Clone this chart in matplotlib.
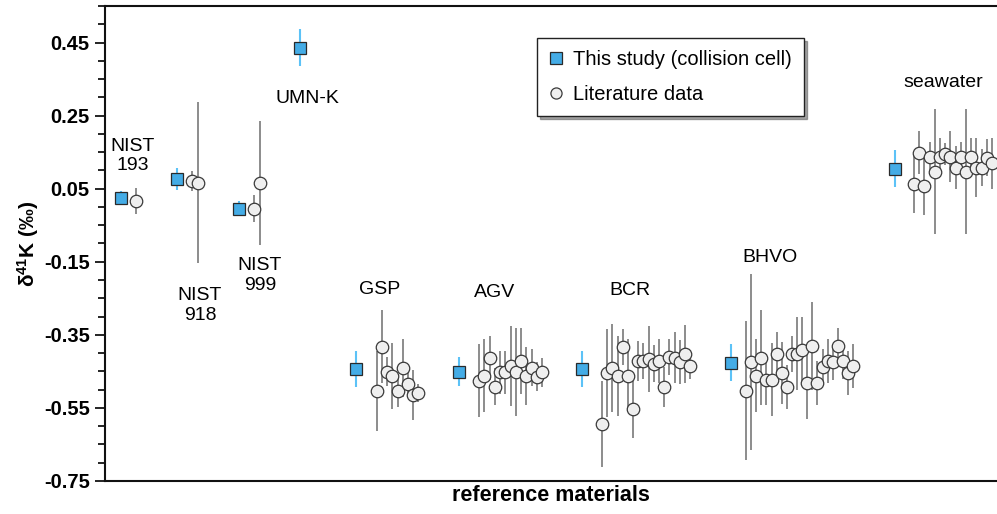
import numpy as np
import matplotlib
matplotlib.use('Agg')
import matplotlib.pyplot as plt
from matplotlib.lines import Line2D

plt.rcParams['font.family'] = ['Liberation Sans', 'DejaVu Sans']
plt.rcParams['mathtext.fontset'] = 'custom'
plt.rcParams['mathtext.rm'] = 'Liberation Sans:bold'
plt.rcParams['mathtext.default'] = 'rm'

# reference materials, in plotting order
materials = ['NIST\n193', 'NIST\n918', 'NIST\n999', 'UMN-K', 'GSP', 'AGV', 'BCR', 'BHVO', 'seawater']

# this study, collision cell (delta41K, 2SD)
this_val = [0.025, 0.077, -0.005, 0.436, -0.443, -0.451, -0.443, -0.426, 0.105]
this_err = [0.018, 0.030, 0.020, 0.050, 0.050, 0.040, 0.050, 0.050, 0.050]

# literature data per material
nist193_lit = [0.017]
nist193_err = [0.036]
nist918_lit = [0.072, 0.066]
nist918_err = [0.027, 0.22]
nist999_lit = [-0.005, 0.066]
nist999_err = [0.037, 0.17]
umnk_lit = []
umnk_err = []
gsp_lit = [-0.503, -0.383, -0.451, -0.462, -0.503, -0.440, -0.484, -0.514, -0.509]
gsp_err = [0.11, 0.10, 0.04, 0.09, 0.045, 0.08, 0.04, 0.068, 0.025]
agv_lit = [-0.476, -0.462, -0.413, -0.492, -0.453, -0.453, -0.435, -0.451, -0.421,
           -0.462, -0.440, -0.465, -0.453]
agv_err = [0.10, 0.10, 0.06, 0.05, 0.06, 0.06, 0.11, 0.12, 0.09, 0.08, 0.05, 0.04, 0.04]
bcr_lit = [-0.594, -0.454, -0.440, -0.462, -0.383, -0.462, -0.553, -0.421, -0.421,
           -0.416, -0.429, -0.421, -0.492, -0.410, -0.412, -0.424, -0.402, -0.435]
bcr_err = [0.118, 0.12, 0.12, 0.11, 0.05, 0.10, 0.078, 0.055, 0.05, 0.09, 0.05, 0.06,
           0.055, 0.05, 0.07, 0.06, 0.08, 0.035]
bhvo_lit = [-0.503, -0.424, -0.462, -0.413, -0.473, -0.473, -0.402, -0.454, -0.492,
            -0.402, -0.402, -0.391, -0.481, -0.380, -0.481, -0.438, -0.421, -0.424,
            -0.380, -0.421, -0.454, -0.435]
bhvo_err = [0.19, 0.24, 0.10, 0.13, 0.07, 0.10, 0.06, 0.085, 0.06, 0.05, 0.10, 0.09,
            0.10, 0.12, 0.06, 0.05, 0.06, 0.05, 0.05, 0.05, 0.06, 0.06]
sw_lit = [0.064, 0.149, 0.058, 0.138, 0.097, 0.138, 0.146, 0.138, 0.108, 0.138,
          0.097, 0.138, 0.108, 0.108, 0.135, 0.120]
sw_err = [0.08, 0.06, 0.08, 0.04, 0.17, 0.05, 0.03, 0.07, 0.06, 0.04, 0.17, 0.05,
          0.08, 0.05, 0.05, 0.07]

lit_vals = [nist193_lit, nist918_lit, nist999_lit, umnk_lit, gsp_lit, agv_lit, bcr_lit, bhvo_lit, sw_lit]
lit_errs = [nist193_err, nist918_err, nist999_err, umnk_err, gsp_err, agv_err, bcr_err, bhvo_err, sw_err]

# layout along the x axis
sq_x = [16, 72, 134, 195, 251, 354, 477, 626, 790]
lit_x0 = [31, 87, 149, 210, 272, 374, 497, 641, 809]
lit_step = [5.2, 6.0, 6.0, 5.2, 5.15, 5.25, 5.18, 5.1, 5.2]
label_xy = [(28, 0.14), (95, -0.27), (155, -0.188), (202, 0.297), (275, -0.227),
            (390, -0.233), (525, -0.229), (665, -0.139), (838, 0.34)]

sq_face = '#44ace6'
sq_bar = '#5cc2f7'
lit_face = '#efefef'
lit_bar = '#8c8c8c'

fig = plt.figure(figsize=(9.97, 5.14), dpi=100)
ax = fig.add_axes([105 / 997, 33 / 514, 892 / 997, 475 / 514])

for i in range(len(materials)):
    vals = lit_vals[i]
    if len(vals) > 0:
        xs = lit_x0[i] + lit_step[i] * np.arange(len(vals))
        ax.errorbar(xs, vals, yerr=lit_errs[i], fmt='none', ecolor=lit_bar,
                    elinewidth=1.4, capsize=0, zorder=2)
        ax.plot(xs, vals, 'o', ms=9, mfc=lit_face, mec='#3a3a3a', mew=0.9,
                ls='none', zorder=3)

ax.errorbar(sq_x, this_val, yerr=this_err, fmt='none', ecolor=sq_bar,
            elinewidth=1.5, capsize=0, zorder=4)
ax.plot(sq_x, this_val, 's', ms=8.5, mfc=sq_face, mec='#2a2a2a', mew=0.9,
        ls='none', zorder=5)

for name, (lx, ly) in zip(materials, label_xy):
    ax.text(lx, ly, name, ha='center', va='center', fontsize=14, linespacing=1.2)

ax.set_xlim(0, 892)
ax.set_ylim(-0.75, 0.55)
ax.set_yticks(np.arange(-0.75, 0.46, 0.2))
ax.set_yticklabels(['%.2f' % v for v in np.arange(-0.75, 0.46, 0.2)])
ax.set_yticks(np.arange(-0.75, 0.551, 0.05), minor=True)
ax.set_xticks([])
for lbl in ax.get_yticklabels():
    lbl.set_fontweight('bold')
ax.tick_params(axis='y', which='major', length=7, width=1.2, labelsize=14.5, pad=4)
ax.tick_params(axis='y', which='minor', length=5, width=1.2)

for s in ['left', 'top', 'bottom']:
    ax.spines[s].set_linewidth(1.5)
    ax.spines[s].set_color('#111111')
ax.spines['right'].set_visible(False)

ax.set_ylabel('δ$^{41}$K (‰)', fontsize=15, fontweight='bold', labelpad=2)
ax.set_xlabel('reference materials', fontsize=15.5, fontweight='bold', labelpad=3)

handles = [
    Line2D([], [], marker='s', ls='none', ms=8, mfc=sq_face, mec='#2a2a2a', mew=0.9),
    Line2D([], [], marker='o', ls='none', ms=8, mfc=lit_face, mec='#3a3a3a', mew=0.9),
]
leg = ax.legend(handles, ['This study (collision cell)', 'Literature data'],
                loc='upper left', bbox_to_anchor=(0.484, 0.933), borderaxespad=0,
                fontsize=14.5, frameon=True, fancybox=False, shadow=True,
                handlelength=0.7, handletextpad=0.5, labelspacing=0.8,
                borderpad=0.6)
leg.get_frame().set_edgecolor('#222222')
leg.get_frame().set_linewidth(1.0)

fig.savefig('out.png', dpi=100)
